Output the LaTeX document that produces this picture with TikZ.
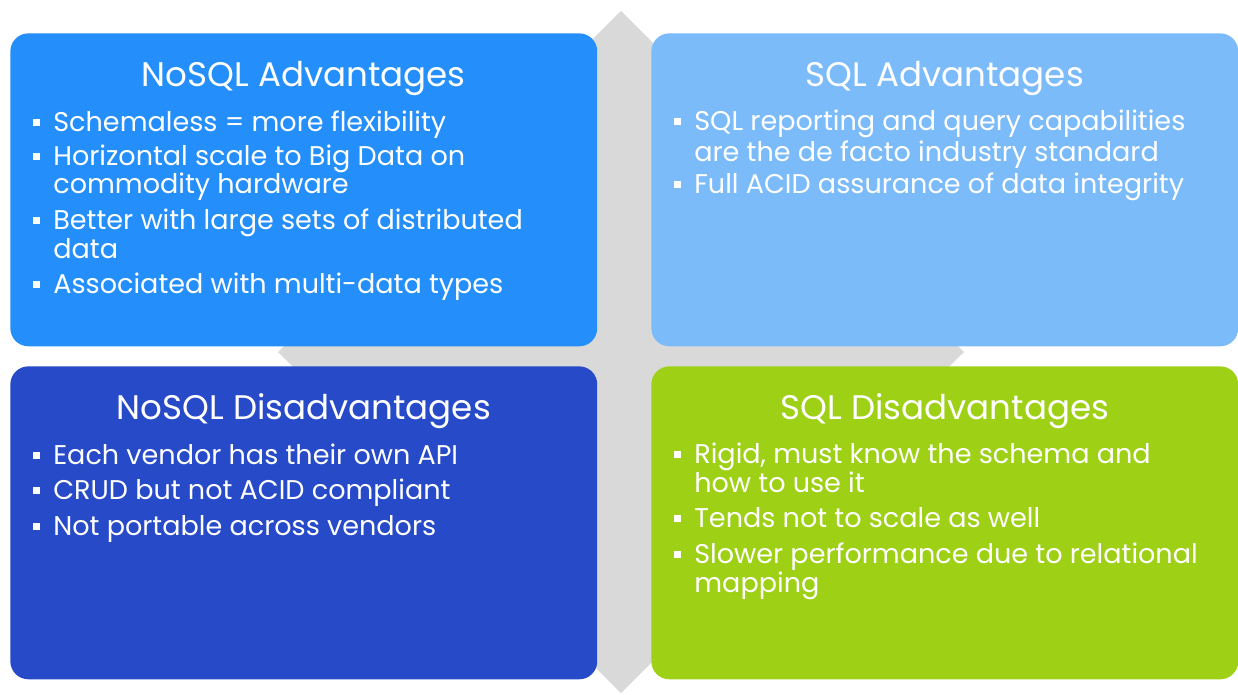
\documentclass[tikz,border=0pt]{standalone}
\usepackage{fontspec}
\setmainfont{Poppins}
\usetikzlibrary{calc}
\definecolor{nsadv}{RGB}{36,143,250}
\definecolor{sqadv}{RGB}{123,187,250}
\definecolor{nsdis}{RGB}{38,74,200}
\definecolor{sqdis}{RGB}{158,208,22}
\definecolor{cross}{RGB}{217,217,217}
\tikzset{
quad/.style={anchor=north west,inner sep=0pt,minimum width=11.74cm,minimum height=6.26cm,rounded corners=0.36cm},
head/.style={anchor=base,text=white,inner sep=0pt,font=\fontsize{19.4pt}{23pt}\selectfont},
line/.style={anchor=base west,text=white,inner sep=0pt,font=\fontsize{15.4pt}{18pt}\selectfont}
}
\begin{document}
\begin{tikzpicture}[x=0.02cm,y=-0.02cm]
\useasboundingbox(0,0)rectangle(1238,694);
\fill[cross](621,11)--(964,352)--(621,693)--(278,352)--cycle;
\foreach \bx/\by/\bc/\bn/\ttl in {10/33/nsadv/tl/{NoSQL Advantages},651/33/sqadv/tr/{SQL Advantages},10/366/nsdis/bl/{NoSQL Disadvantages},651/366/sqdis/br/{SQL Disadvantages}}{
\node[quad,fill=\bc](\bn) at (\bx,\by){};
\node[head](\bn-t) at ($(\bn.north)+(0,53)$){\ttl};}
\foreach \bn/\ly/\bu/\txt in {tl/98/1/{Schemaless = more flexibility},tl/132/1/{Horizontal scale to Big Data on},tl/160/0/{commodity hardware},tl/196/1/{Better with large sets of distributed},tl/225/0/{data},tl/260/1/{Associated with multi-data types},
tr/97/1/{SQL reporting and query capabilities},tr/128/0/{are the de facto industry standard},tr/160/1/{Full ACID assurance of data integrity},
bl/98/1/{Each vendor has their own API},bl/133/1/{CRUD but not ACID compliant},bl/169/1/{Not portable across vendors},
br/97/1/{Rigid, must know the schema and},br/126/0/{how to use it},br/161/1/{Tends not to scale as well},br/197/1/{Slower performance due to relational},br/226/0/{mapping}}{
\node[line](\bn-\ly) at ($(\bn.north west)+(43,\ly)$){\txt};
\ifnum\bu=1 \fill[white]($(\bn.north west)+(23,\ly-12)$)rectangle++(7,7);\fi}
\end{tikzpicture}
\end{document}
